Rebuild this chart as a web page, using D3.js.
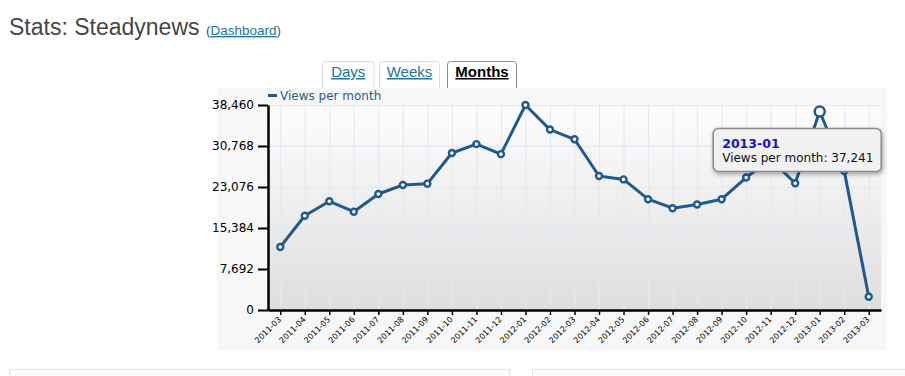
<!DOCTYPE html>
<html>
<head>
<meta charset="utf-8">
<script src="https://cdn.jsdelivr.net/npm/d3@7"></script>
<style>
  body { margin: 0; background: #fff; }
  svg { display: block; font-family: "DejaVu Sans", Verdana, sans-serif; }
  .head { font-family: "Liberation Sans", Arial, Helvetica, sans-serif; }
</style>
</head>
<body>
<svg id="page" width="905" height="376"></svg>
<script>
// months on the x axis
const months = ["2011-03", "2011-04", "2011-05", "2011-06", "2011-07", "2011-08", "2011-09",
  "2011-10", "2011-11", "2011-12", "2012-01", "2012-02", "2012-03", "2012-04", "2012-05",
  "2012-06", "2012-07", "2012-08", "2012-09", "2012-10", "2012-11", "2012-12", "2013-01",
  "2013-02", "2013-03"];

// views per month
const views = [11820, 17690, 20390, 18440, 21760, 23450, 23700, 29450, 31120, 29240,
  38460, 33850, 32030, 25140, 24500, 20790, 19100, 19800, 20790, 24850,
  28300, 23780, 37241, 26100, 2480];

const yTicks = [0, 7692, 15384, 23076, 30768, 38460];
const tabs = ["Days", "Weeks", "Months"];
const activeTab = "Months";
const seriesName = "Views per month";
const hoverMonth = "2013-01";

const data = months.map((m, i) => ({ m: m, v: views[i] }));
const blue = "#1f5a8b";

const page = d3.select("#page");

// page title
page.append("text")
  .attr("class", "head")
  .attr("x", 9).attr("y", 35)
  .attr("font-size", 23)
  .attr("fill", "#464646")
  .text("Stats: Steadynews");

const sub = page.append("text")
  .attr("class", "head")
  .attr("x", 206).attr("y", 35)
  .attr("font-size", 13.5)
  .attr("fill", "#555");
sub.append("tspan").text("(");
sub.append("tspan").attr("fill", "#21759b").attr("text-decoration", "underline").text("Dashboard");
sub.append("tspan").text(")");

// tabs
const tabBoxes = [
  { x: 322.5, w: 51.5 },
  { x: 379.5, w: 60 },
  { x: 447.5, w: 69 }
];
tabs.forEach(function (t, i) {
  const b = tabBoxes[i];
  const on = t === activeTab;
  page.append("rect")
    .attr("x", b.x).attr("y", 61.5)
    .attr("width", b.w).attr("height", 34)
    .attr("rx", 3)
    .attr("fill", "#fff")
    .attr("stroke", on ? "#8c8c8c" : "#dcdcdc");
  page.append("text")
    .attr("class", "head")
    .attr("x", b.x + b.w / 2).attr("y", 77)
    .attr("text-anchor", "middle")
    .attr("font-size", 15)
    .attr("font-weight", on ? "bold" : "normal")
    .attr("fill", on ? "#000" : "#21759b")
    .attr("text-decoration", "underline")
    .text(t);
});

// chart panel
page.append("rect")
  .attr("x", 217).attr("y", 88)
  .attr("width", 670).attr("height", 262)
  .attr("fill", "#f7f7f7");

const defs = page.append("defs");
const grad = defs.append("linearGradient")
  .attr("id", "bg").attr("x1", 0).attr("y1", 0).attr("x2", 0).attr("y2", 1);
grad.append("stop").attr("offset", "0%").attr("stop-color", "#fdfdfd");
grad.append("stop").attr("offset", "100%").attr("stop-color", "#dedede");

const shadow = defs.append("filter").attr("id", "shadow")
  .attr("x", "-10%").attr("y", "-20%").attr("width", "130%").attr("height", "160%");
shadow.append("feDropShadow")
  .attr("dx", 1).attr("dy", 2).attr("stdDeviation", 2)
  .attr("flood-color", "#000").attr("flood-opacity", 0.35);

const plotL = 268, plotR = 881, plotT = 105, plotB = 310;

const x = d3.scalePoint().domain(months).range([plotL, plotR]).padding(0.5);
const y = d3.scaleLinear().domain([0, d3.max(yTicks)]).range([plotB, plotT]);

// plot background
page.append("rect")
  .attr("x", plotL).attr("y", plotT)
  .attr("width", plotR - plotL).attr("height", plotB - plotT)
  .attr("fill", "url(#bg)");

// grid
const grid = page.append("g").attr("stroke", "#dfe8f5").attr("stroke-width", 1);
grid.selectAll("line.v")
  .data(months)
  .join("line")
  .attr("class", "v")
  .attr("x1", d => x(d) + 0.5).attr("x2", d => x(d) + 0.5)
  .attr("y1", plotT).attr("y2", plotB);
grid.selectAll("line.h")
  .data(yTicks.filter(d => d > 0))
  .join("line")
  .attr("class", "h")
  .attr("x1", plotL).attr("x2", plotR)
  .attr("y1", d => y(d) + 0.5).attr("y2", d => y(d) + 0.5);

// y axis
const yAxis = page.append("g")
  .attr("transform", `translate(${plotL},0)`)
  .call(d3.axisLeft(y).tickValues(yTicks).tickFormat(d3.format(","))
    .tickSize(10).tickSizeOuter(0).tickPadding(4));
yAxis.select(".domain").attr("stroke", "#000").attr("stroke-width", 2.5);
yAxis.selectAll(".tick line").attr("stroke", "#000").attr("stroke-width", 2);
yAxis.selectAll(".tick text")
  .attr("font-family", "DejaVu Sans, Verdana, sans-serif")
  .attr("font-size", 12)
  .attr("fill", "#000");

// x axis
const xAxis = page.append("g")
  .attr("transform", `translate(0,${plotB})`)
  .call(d3.axisBottom(x).tickSize(5).tickSizeOuter(0));
xAxis.select(".domain").attr("stroke", "#000").attr("stroke-width", 2.5);
xAxis.selectAll(".tick line").attr("stroke", "#000").attr("stroke-width", 1.5);
xAxis.selectAll(".tick text")
  .attr("font-family", "DejaVu Sans, Verdana, sans-serif")
  .attr("font-size", 8)
  .attr("fill", "#000")
  .attr("text-anchor", "end")
  .attr("x", 0).attr("y", 0).attr("dy", "0.35em")
  .attr("transform", "translate(-1,8) rotate(-45)");

// legend
page.append("rect")
  .attr("x", 268).attr("y", 94)
  .attr("width", 9).attr("height", 3)
  .attr("fill", blue);
page.append("text")
  .attr("x", 280).attr("y", 100)
  .attr("font-size", 12)
  .attr("fill", "#2c5c86")
  .text(seriesName);

// line
page.append("path")
  .datum(data)
  .attr("fill", "none")
  .attr("stroke", blue)
  .attr("stroke-width", 3)
  .attr("stroke-linejoin", "round")
  .attr("d", d3.line().x(d => x(d.m)).y(d => y(d.v)));

// points
page.append("g")
  .selectAll("circle")
  .data(data.filter(d => d.m !== hoverMonth))
  .join("circle")
  .attr("cx", d => x(d.m))
  .attr("cy", d => y(d.v))
  .attr("r", 3)
  .attr("fill", "#fff")
  .attr("stroke", blue)
  .attr("stroke-width", 2.4);

// hovered point
const hov = data.find(d => d.m === hoverMonth);
page.append("circle")
  .attr("cx", x(hov.m))
  .attr("cy", y(hov.v))
  .attr("r", 5)
  .attr("fill", "#fff")
  .attr("stroke", blue)
  .attr("stroke-width", 2.5);

// tooltip
const tx = x(hov.m) - 106.5, ty = y(hov.v) + 17;
const tip = page.append("g").attr("transform", `translate(${tx},${ty})`);
tip.append("rect")
  .attr("width", 168).attr("height", 43)
  .attr("rx", 5)
  .attr("fill", "#f1f1f1")
  .attr("stroke", "#8a8a8a")
  .attr("stroke-width", 1.5)
  .attr("filter", "url(#shadow)");
tip.append("text")
  .attr("x", 9).attr("y", 20)
  .attr("font-size", 12.5)
  .attr("font-weight", "bold")
  .attr("fill", "#1414c8")
  .text(hov.m);
tip.append("text")
  .attr("x", 9).attr("y", 34)
  .attr("font-size", 12)
  .attr("fill", "#111")
  .text(seriesName + ": " + d3.format(",")(hov.v));

// boxes below the chart
page.append("rect")
  .attr("x", 9.5).attr("y", 369.5)
  .attr("width", 500).attr("height", 30)
  .attr("fill", "#fff").attr("stroke", "#e3e3e3");
page.append("rect")
  .attr("x", 532.5).attr("y", 369.5)
  .attr("width", 400).attr("height", 30)
  .attr("fill", "#fff").attr("stroke", "#e3e3e3");
</script>
</body>
</html>
